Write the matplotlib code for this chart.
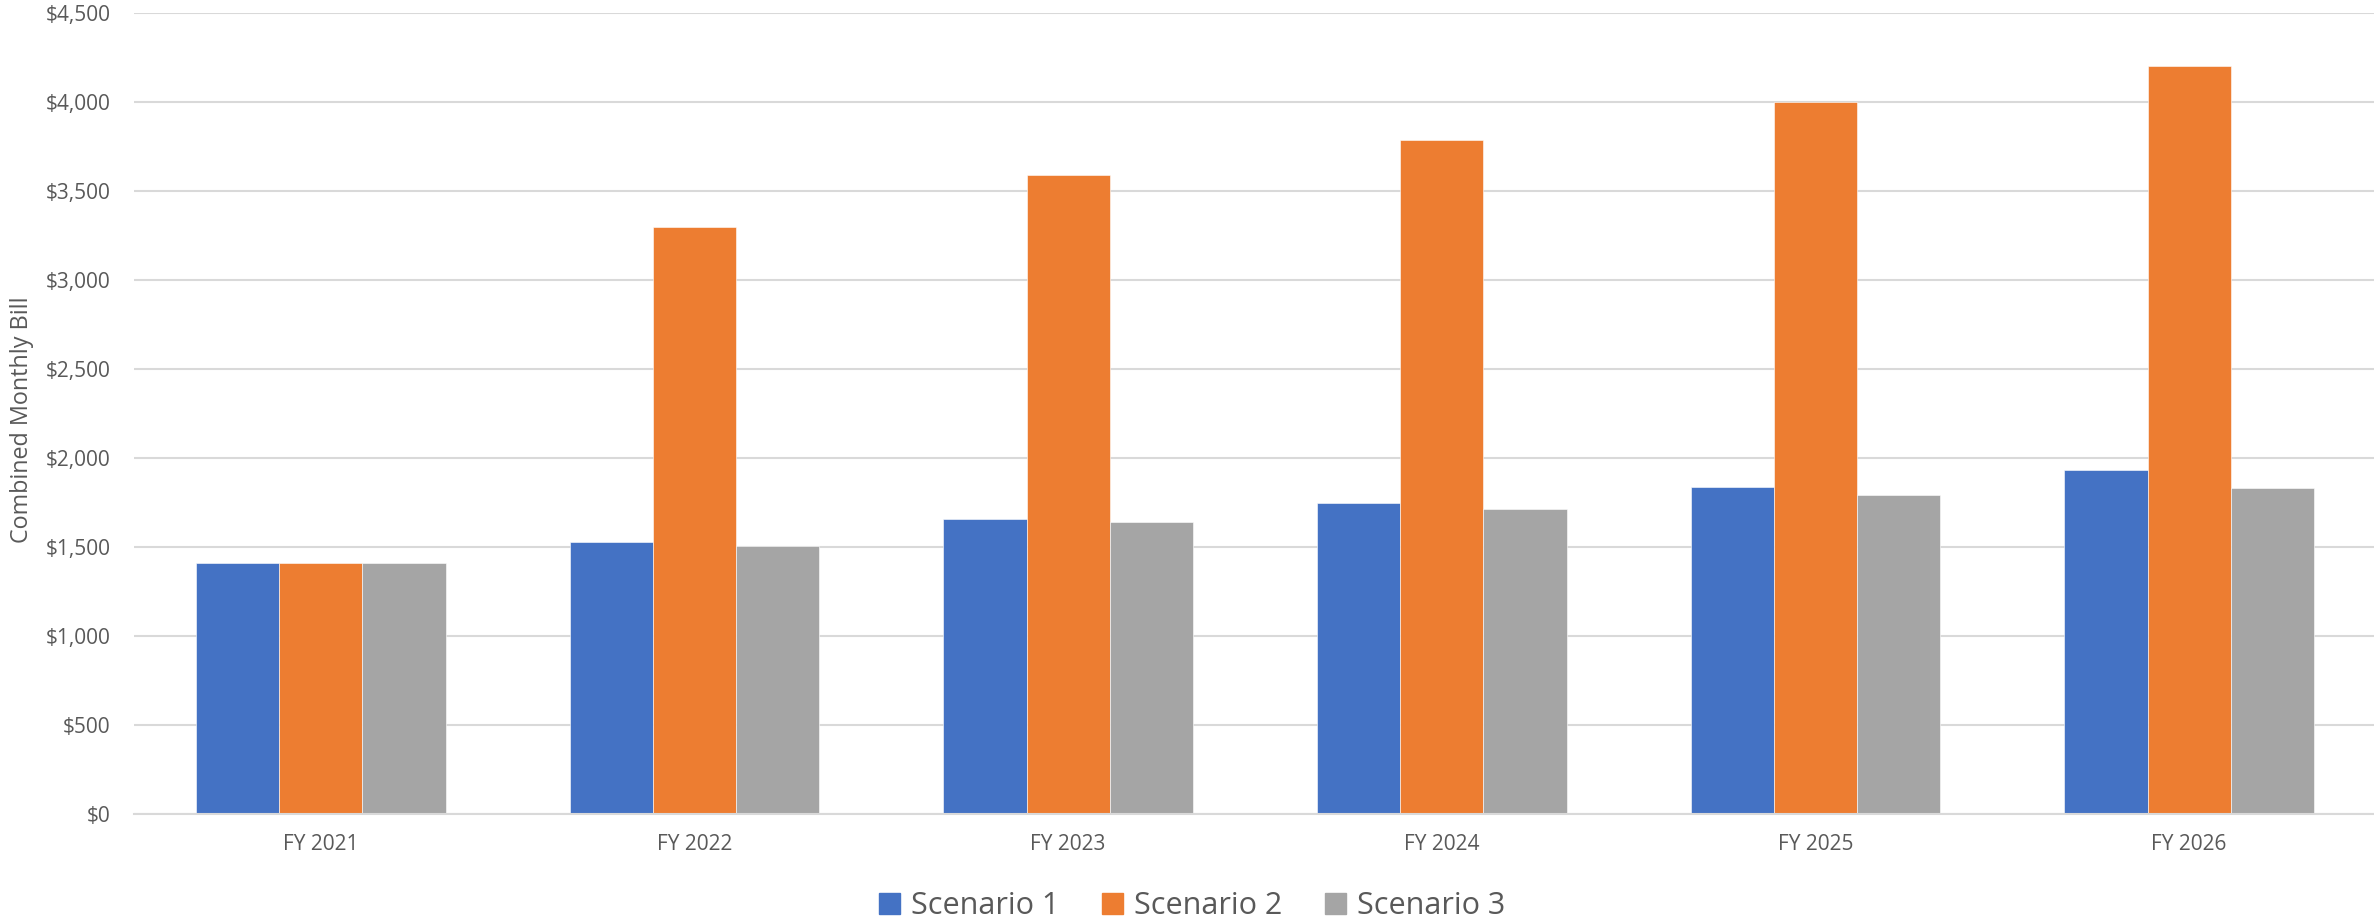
import matplotlib
matplotlib.use("Agg")
import matplotlib.pyplot as plt
import matplotlib.patches as mpatches
from matplotlib.ticker import FuncFormatter, MultipleLocator
import numpy as np

plt.rcParams['font.family'] = ['Open Sans', 'DejaVu Sans']

years = ["FY 2021", "FY 2022", "FY 2023", "FY 2024", "FY 2025", "FY 2026"]
scenario_1 = [1410, 1530, 1660, 1750, 1840, 1935]
scenario_2 = [1410, 3300, 3590, 3790, 4000, 4205]
scenario_3 = [1410, 1510, 1642, 1713, 1792, 1831]
series_names = ["Scenario 1", "Scenario 2", "Scenario 3"]
colors = ["#4472C4", "#ED7D31", "#A5A5A5"]
text_color = "#595959"
grid_color = "#D9D9D9"

W, H = 2374, 923
fig = plt.figure(figsize=(W / 100, H / 100), dpi=100)
left, right = 134, 2376
bottom, top = 814.3, 13.3
ax = fig.add_axes([left / W, (H - bottom) / H, (right - left) / W, (bottom - top) / H])

x = np.arange(len(years))
bar_w = 0.2225
for i, (vals, name, c) in enumerate(zip([scenario_1, scenario_2, scenario_3], series_names, colors)):
    ax.bar(x + (i - 1) * bar_w, vals, width=bar_w, color=c, label=name,
           edgecolor="white", linewidth=0.4, zorder=3)

ax.set_xlim(-0.5, len(years) - 0.5)
ax.set_ylim(0, 4500)
ax.yaxis.set_major_locator(MultipleLocator(500))
ax.yaxis.set_major_formatter(FuncFormatter(lambda v, p: f"${v:,.0f}"))
ax.set_xticks(x)
ax.set_xticklabels(years)

ax.grid(axis="y", color=grid_color, linewidth=1.5, zorder=0)
ax.set_axisbelow(True)
for s in ["top", "right", "left"]:
    ax.spines[s].set_visible(False)
ax.spines["bottom"].set_color(grid_color)
ax.spines["bottom"].set_linewidth(1.5)
ax.spines["bottom"].set_zorder(4)

ax.tick_params(axis="both", length=0, labelsize=15, colors=text_color)
ax.tick_params(axis="x", pad=14)
ax.tick_params(axis="y", pad=17)

fig.text(22.5 / W, (H - 419.5) / H, "Combined Monthly Bill", rotation=90,
         ha="center", va="center", fontsize=16.8, color=text_color)

handles = [mpatches.Patch(color=c, label=n) for c, n in zip(colors, series_names)]
leg = fig.legend(handles=handles, loc="center", bbox_to_anchor=(1192 / W, (H - 906) / H),
                 ncol=3, frameon=False, fontsize=22, handlelength=0.69, handleheight=0.69,
                 handletextpad=0.36, columnspacing=1.4, borderpad=0, borderaxespad=0)
for t in leg.get_texts():
    t.set_color(text_color)

fig.savefig("out.png", dpi=100, facecolor="white")
